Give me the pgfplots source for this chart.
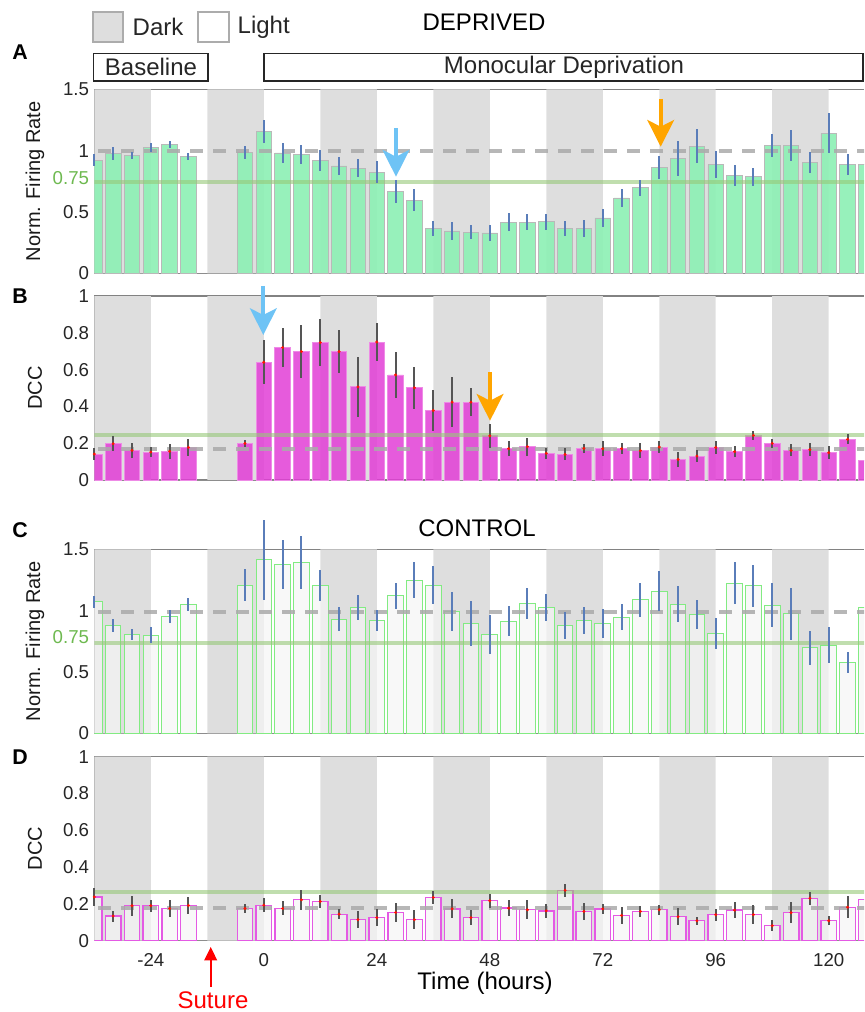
\documentclass[border=0pt]{standalone}
\usepackage{fontspec}
\setmainfont{Liberation Sans}
\usepackage{pgfplots}
\usepackage{pgfplotstable}
\pgfplotsset{compat=1.18}
\usetikzlibrary{arrows.meta}

\definecolor{bandgray}{RGB}{222,222,222}
\definecolor{mint}{RGB}{140,240,180}
\definecolor{mag}{RGB}{226,62,214}
\definecolor{errblue}{RGB}{90,125,185}
\definecolor{errgray}{RGB}{85,85,85}
\definecolor{refgreen}{RGB}{150,200,120}
\definecolor{refgray}{RGB}{170,170,170}
\definecolor{lblgreen}{RGB}{110,185,80}
\definecolor{arrblue}{RGB}{110,195,245}
\definecolor{arrorange}{RGB}{255,165,0}
\definecolor{axisgray}{RGB}{130,130,130}
\definecolor{ctlgreen}{RGB}{130,235,130}
\definecolor{ctlmag}{RGB}{228,90,228}

% time (h), A: deprived rate, B: deprived DCC, C: control rate, D: control DCC
\pgfplotstableread{
t    a     ae    b     be    c     ce    d     de
-36  0.923 0.049 0.141 0.033 1.073 0.049 0.238 0.049
-32  0.978 0.052 0.197 0.042 0.880 0.055 0.134 0.030
-28  0.962 0.027 0.161 0.042 0.807 0.046 0.190 0.054
-24  1.027 0.035 0.152 0.029 0.799 0.065 0.190 0.032
-20  1.051 0.027 0.156 0.040 0.951 0.054 0.175 0.047
-16  0.951 0.030 0.177 0.045 1.052 0.054 0.191 0.045
-4   0.983 0.052 0.199 0.018 1.209 0.133 0.175 0.025
0    1.157 0.092 0.640 0.119 1.416 0.326 0.193 0.038
4    0.981 0.079 0.720 0.104 1.378 0.198 0.175 0.038
8    0.967 0.079 0.698 0.144 1.391 0.217 0.222 0.054
12   0.921 0.084 0.747 0.127 1.207 0.125 0.213 0.036
16   0.875 0.076 0.698 0.119 0.929 0.098 0.144 0.027
20   0.856 0.073 0.506 0.161 1.024 0.100 0.114 0.047
24   0.823 0.090 0.750 0.101 0.921 0.084 0.125 0.047
28   0.668 0.092 0.571 0.126 1.120 0.109 0.153 0.052
32   0.595 0.090 0.501 0.113 1.247 0.147 0.114 0.052
36   0.364 0.062 0.378 0.113 1.206 0.155 0.235 0.036
40   0.345 0.076 0.423 0.137 0.992 0.158 0.173 0.052
44   0.334 0.058 0.423 0.076 0.897 0.182 0.125 0.042
48   0.329 0.064 0.240 0.066 0.807 0.158 0.217 0.038
52   0.418 0.073 0.170 0.042 0.913 0.122 0.177 0.045
56   0.415 0.065 0.181 0.049 1.060 0.128 0.168 0.051
60   0.420 0.065 0.145 0.031 1.024 0.110 0.162 0.038
64   0.364 0.062 0.139 0.033 0.880 0.109 0.274 0.034
68   0.366 0.068 0.172 0.024 0.918 0.109 0.159 0.045
72   0.451 0.076 0.170 0.042 0.897 0.120 0.173 0.027
76   0.614 0.073 0.170 0.029 0.948 0.109 0.137 0.047
80   0.698 0.065 0.159 0.040 1.087 0.141 0.159 0.029
84   0.864 0.092 0.179 0.033 1.160 0.163 0.168 0.027
88   0.937 0.141 0.112 0.040 1.054 0.144 0.130 0.047
92   1.037 0.136 0.130 0.031 0.967 0.117 0.108 0.023
96   0.885 0.111 0.177 0.033 0.813 0.125 0.141 0.032
100  0.798 0.084 0.154 0.031 1.223 0.171 0.166 0.045
104  0.787 0.073 0.242 0.022 1.201 0.171 0.141 0.051
108  1.040 0.092 0.199 0.024 1.043 0.179 0.081 0.029
112  1.043 0.125 0.161 0.033 0.976 0.212 0.152 0.056
116  0.905 0.087 0.165 0.036 0.696 0.141 0.231 0.036
120  1.141 0.163 0.148 0.036 0.717 0.147 0.108 0.025
124  0.888 0.084 0.221 0.027 0.579 0.084 0.182 0.061
128  0.890 0.080 0.107 0.030 1.024 0.080 0.224 0.030
}\data

\newcommand{\fL}{\fontsize{18}{21}\selectfont}
\newcommand{\fT}{\fontsize{14}{16}\selectfont}
\newcommand{\fB}{\fontsize{16}{19}\selectfont\bfseries}

% dark/light bands (12 h each)
\newcommand{\bands}[1]{%
  \addplot[ybar interval, fill=bandgray, draw=none, forget plot] coordinates {
    (-36,#1) (-24,0) (-12,#1) (0,0) (12,#1) (24,0) (36,#1) (48,0)
    (60,#1) (72,0) (84,#1) (96,0) (108,#1) (120,0) (132,0)};}
\newcommand{\refline}[2]{%
  \addplot[#1, forget plot] coordinates {(-40,#2) (132,#2)};}

\tikzset{
  greenref/.style={refgreen, line width=3pt, opacity=0.6},
  grayref/.style={refgray, line width=3pt, opacity=0.85, dash pattern=on 9.75pt off 7.5pt},
  evarrow/.style={line width=3pt, -{Stealth[width=20pt, length=20pt, inset=5pt]}},
}
\pgfplotsset{
  panel/.style={
    scale only axis, width=577.3pt, height=138pt,
    anchor=south west,
    xmin=-36, xmax=127.5,
    axis x line*=box, axis y line*=left,
    axis line style={draw=axisgray, line width=1.1pt},
    major tick length=0pt,
    xtick={-24,0,...,120},
    xticklabels={},
    tick label style={font=\fT, text=black!85},
    /pgf/number format/assume math mode=true,
    yticklabel style={inner sep=0pt, xshift=-3.75pt},
    ylabel style={font=\fontsize{15}{18}\selectfont, text=black!90,
      at={(axis description cs:-0.077,0.5)}, anchor=center},
    clip mode=individual,
  },
}

\begin{document}
\begin{tikzpicture}
\useasboundingbox (0,0) rectangle (648pt,-759pt);

% ---- A: deprived, firing rate
\begin{axis}[panel, at={(70.725pt,-204.975pt)},
  ymin=0, ymax=1.5, ytick={0,0.5,1,1.5}, ylabel={Norm. Firing Rate}]
\bands{1.5}
\addplot[ybar, bar width=3.3, fill=mint, fill opacity=0.9, draw=gray!55, line width=0.6pt]
  table[x=t, y=a] {\data};
\refline{greenref}{0.745}
\refline{grayref}{1.0}
\addplot[clip=false, draw=none, mark=none, forget plot,
  error bars/.cd, y dir=both, y explicit, error mark=none,
  error bar style={draw=errblue, line width=1.5pt, solid, opacity=1}]
  table[x=t, y=a, y error=ae] {\data};
\end{axis}

% ---- B: deprived, DCC
\begin{axis}[panel, at={(70.725pt,-360pt)},
  ymin=0, ymax=1, ytick={0,0.2,0.4,0.6,0.8,1}, ylabel={DCC}]
\bands{1}
\addplot[ybar, bar width=3.3, fill=mag, fill opacity=0.85, draw=mag!60!white, line width=0.6pt]
  table[x=t, y=b] {\data};
\refline{greenref}{0.244}
\refline{grayref}{0.166}
\addplot[clip=false, draw=none, mark=none, forget plot,
  error bars/.cd, y dir=both, y explicit, error mark=none,
  error bar style={draw=errgray, line width=1.5pt, solid, opacity=1}]
  table[x=t, y=b, y error=be] {\data};
\addplot[only marks, mark=*, mark size=0.9pt, color=red!85!orange, forget plot]
  table[x=t, y=b] {\data};
\end{axis}

% ---- C: control, firing rate
\begin{axis}[panel, at={(70.725pt,-549.975pt)},
  ymin=0, ymax=1.5, ytick={0,0.5,1,1.5}, ylabel={Norm. Firing Rate}]
\bands{1.5}
\addplot[ybar, bar width=3.3, fill=gray!8, fill opacity=0.7, draw=ctlgreen, line width=0.75pt]
  table[x=t, y=c] {\data};
\refline{greenref}{0.734}
\refline{grayref}{0.986}
\addplot[clip=false, draw=none, mark=none, forget plot,
  error bars/.cd, y dir=both, y explicit, error mark=none,
  error bar style={draw=errblue, line width=1.5pt, solid, opacity=1}]
  table[x=t, y=c, y error=ce] {\data};
\end{axis}

% ---- D: control, DCC
\begin{axis}[panel, at={(70.725pt,-705.5pt)},
  ymin=0, ymax=1, ytick={0,0.2,0.4,0.6,0.8,1}, ylabel={DCC},
  xticklabels={-24,0,24,48,72,96,120},
  xticklabel style={inner sep=0pt, anchor=north, yshift=-9.5pt},
  xlabel={Time (hours)},
  xlabel style={font=\fL, at={(axis description cs:0.5076,-0.2326)}, anchor=center}]
\bands{1}
\addplot[ybar, bar width=3.3, fill=gray!8, fill opacity=0.7, draw=ctlmag, line width=1pt]
  table[x=t, y=d] {\data};
\refline{greenref}{0.267}
\refline{grayref}{0.175}
\addplot[clip=false, draw=none, mark=none, forget plot,
  error bars/.cd, y dir=both, y explicit, error mark=none,
  error bar style={draw=errgray, line width=1.5pt, solid, opacity=1}]
  table[x=t, y=d, y error=de] {\data};
\addplot[only marks, mark=*, mark size=0.9pt, color=red!85!orange, forget plot]
  table[x=t, y=d] {\data};
\end{axis}

% ---- annotations (pixel frame of the reference)
\begin{scope}[x=0.75pt, y=-0.75pt]
  \filldraw[fill=bandgray, draw=gray!65, line width=1.1pt] (93,12) rectangle (123,42);
  \node[anchor=west, font=\fL, text=black!85] at (128,27) {Dark};
  \filldraw[fill=white, draw=gray!65, line width=1.1pt] (198,12) rectangle (229,42);
  \node[anchor=west, font=\fL, text=black!85] at (233,27) {Light};
  \node[font=\fL] at (484,22) {DEPRIVED};
  \node[font=\fB] at (20,52) {A};
  \draw[black!85, line width=1.1pt] (93.3,53.3) rectangle (208,81);
  \node[font=\fL, text=black!85] at (151,67) {Baseline};
  \draw[black!85, line width=1.1pt] (264,53.3) rectangle (863,81);
  \node[font=\fL, text=black!85] at (564,67) {Monocular Deprivation};
  \node[font=\fB] at (20,296) {B};
  \node[font=\fB] at (20,530) {C};
  \node[font=\fL] at (477,528) {CONTROL};
  \node[font=\fB] at (20,757) {D};
  \node[anchor=east, font=\fT, text=lblgreen, inner sep=0pt] at (89.3,178) {0.75};
  \node[anchor=east, font=\fT, text=lblgreen, inner sep=0pt] at (89.3,636.7) {0.75};
  % event arrows
  \draw[arrblue, evarrow] (396,128.3) -- (396,176.7);
  \draw[arrorange, evarrow] (660.7,99) -- (660.7,146.7);
  \draw[arrblue, evarrow] (263.3,286) -- (263.3,335);
  \draw[arrorange, evarrow] (490,372) -- (490,420.7);
  % suture
  \draw[red, line width=1.3pt, -{Triangle[width=9.5pt, length=10pt]}] (210.7,987) -- (210.7,947);
  \node[font=\fL, text=red] at (213,1000) {Suture};
\end{scope}
\end{tikzpicture}
\end{document}
